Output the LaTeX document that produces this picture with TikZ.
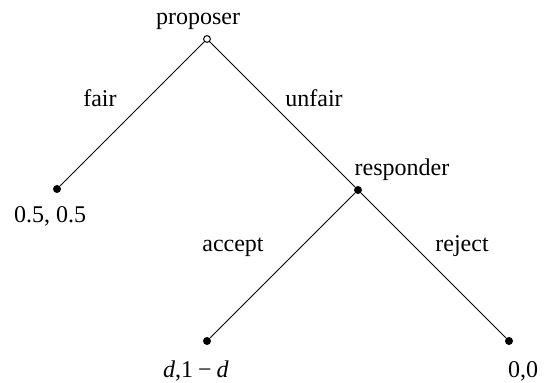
\documentclass[tikz,border=0pt]{standalone}
\usepackage{fontspec}
\setmainfont{Liberation Serif}
\usepackage{tikz}
\usetikzlibrary{positioning}
\tikzset{
    % Tree nodes
    choice/.style={
        circle,
        draw=black,
        fill=white,
        line width=0.5pt,
        inner sep=0pt,
        minimum size=3.4pt
    },
    outcome/.style={
        circle,
        fill=black,
        inner sep=0pt,
        minimum size=4pt
    },
    % Branches and labels
    branch/.style={
        line width=0.5pt,
        draw=black
    },
    tag/.style={
        font=\fontsize{12}{14}\selectfont,
        inner sep=0pt,
        anchor=base
    }
}

\begin{document}
\begin{tikzpicture}[x=0.5pt, y=-0.5pt]
    \useasboundingbox (0,0) rectangle (549,383);

    % Decision nodes
    \node[choice] (prop) at (207,39) {};
    \node[outcome] (resp) at (358,190) {};

    % Terminal nodes
    \node[outcome] (fairend) at (57,189) {};
    \node[outcome] (accend) at (207,341) {};
    \node[outcome] (rejend) at (509,341) {};

    % Branches
    \draw[branch] (prop) -- (fairend);
    \draw[branch] (prop) -- (resp);
    \draw[branch] (resp) -- (accend);
    \draw[branch] (resp) -- (rejend);

    % Player labels
    \node[tag] (proplab) at (198,25) {proposer};
    \node[tag] (resplab) at (402,176) {responder};

    % Action labels
    \node[tag] (fairlab) at (100,107) {fair};
    \node[tag] (unfairlab) at (314,107) {unfair};
    \node[tag] (acclab) at (233,252) {accept};
    \node[tag] (rejlab) at (462,252) {reject};

    % Payoffs
    \node[tag] (fairpay) at (50,223) {0.5, 0.5};
    \node[tag] (accpay) at (196,377) {\textit{d},1\hspace{2.5pt}−\hspace{2.5pt}\textit{d}};
    \node[tag] (rejpay) at (523,377) {0,0};
\end{tikzpicture}
\end{document}
